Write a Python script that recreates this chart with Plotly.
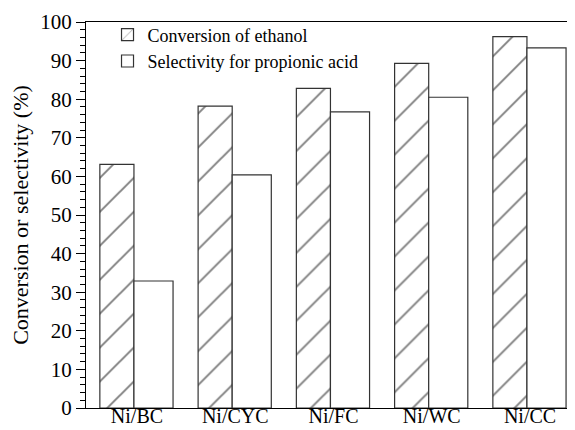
import plotly.graph_objects as go

categories = ["Ni/BC", "Ni/CYC", "Ni/FC", "Ni/WC", "Ni/CC"]
conversion = [63.1, 78.2, 82.8, 89.3, 96.2]
selectivity = [32.9, 60.4, 76.7, 80.5, 93.3]
series_names = ["Conversion of ethanol", "Selectivity for propionic acid"]

FONT = "Times New Roman"
LINE = "#333333"

fig = go.Figure()
fig.add_trace(go.Bar(
    x=categories, y=conversion, name=series_names[0],
    offset=-0.378, width=0.347,
    marker=dict(color="white", line=dict(color=LINE, width=1.2),
                pattern=dict(shape="/", size=24, solidity=0.08,
                             fgcolor="black", bgcolor="white", fillmode="overlay")),
))
fig.add_trace(go.Bar(
    x=categories, y=selectivity, name=series_names[1],
    offset=-0.031, width=0.398,
    marker=dict(color="white", line=dict(color=LINE, width=1.2)),
))

# page body adds an 8px offset, so the figure is 567x422 with margins adjusted
fig.update_layout(
    width=567, height=422,
    margin=dict(l=78, r=0, t=14, b=22, autoexpand=False),
    paper_bgcolor="white", plot_bgcolor="white",
    font=dict(family=FONT, color="black", size=21),
    barmode="overlay",
    showlegend=True,
    legend=dict(x=0.044, y=1.0145, xanchor="left", yanchor="top",
                bgcolor="rgba(0,0,0,0)", font=dict(size=18, family=FONT),
                tracegroupgap=0),
)
fig.update_xaxes(
    type="category", range=[-0.519, 4.458], automargin=False,
    showline=True, linecolor="black", linewidth=1.3, mirror=True,
    ticks="", showgrid=False, zeroline=False, ticklabelstandoff=-10,
    tickfont=dict(size=20, family=FONT),
)
fig.update_yaxes(
    range=[0, 100], dtick=10, tick0=0, automargin=False,
    showline=True, linecolor="black", linewidth=1.3, mirror=False,
    ticks="outside", ticklen=9, tickwidth=1.2, tickcolor="black",
    minor=dict(dtick=2, ticks="outside", ticklen=5, tickwidth=1, tickcolor="black", showgrid=False),
    showgrid=False, zeroline=False,
    tickfont=dict(size=21, family=FONT),
    title=dict(text="Conversion or selectivity (%)", font=dict(size=22, family=FONT), standoff=6),
)

fig.write_html("out.html")
